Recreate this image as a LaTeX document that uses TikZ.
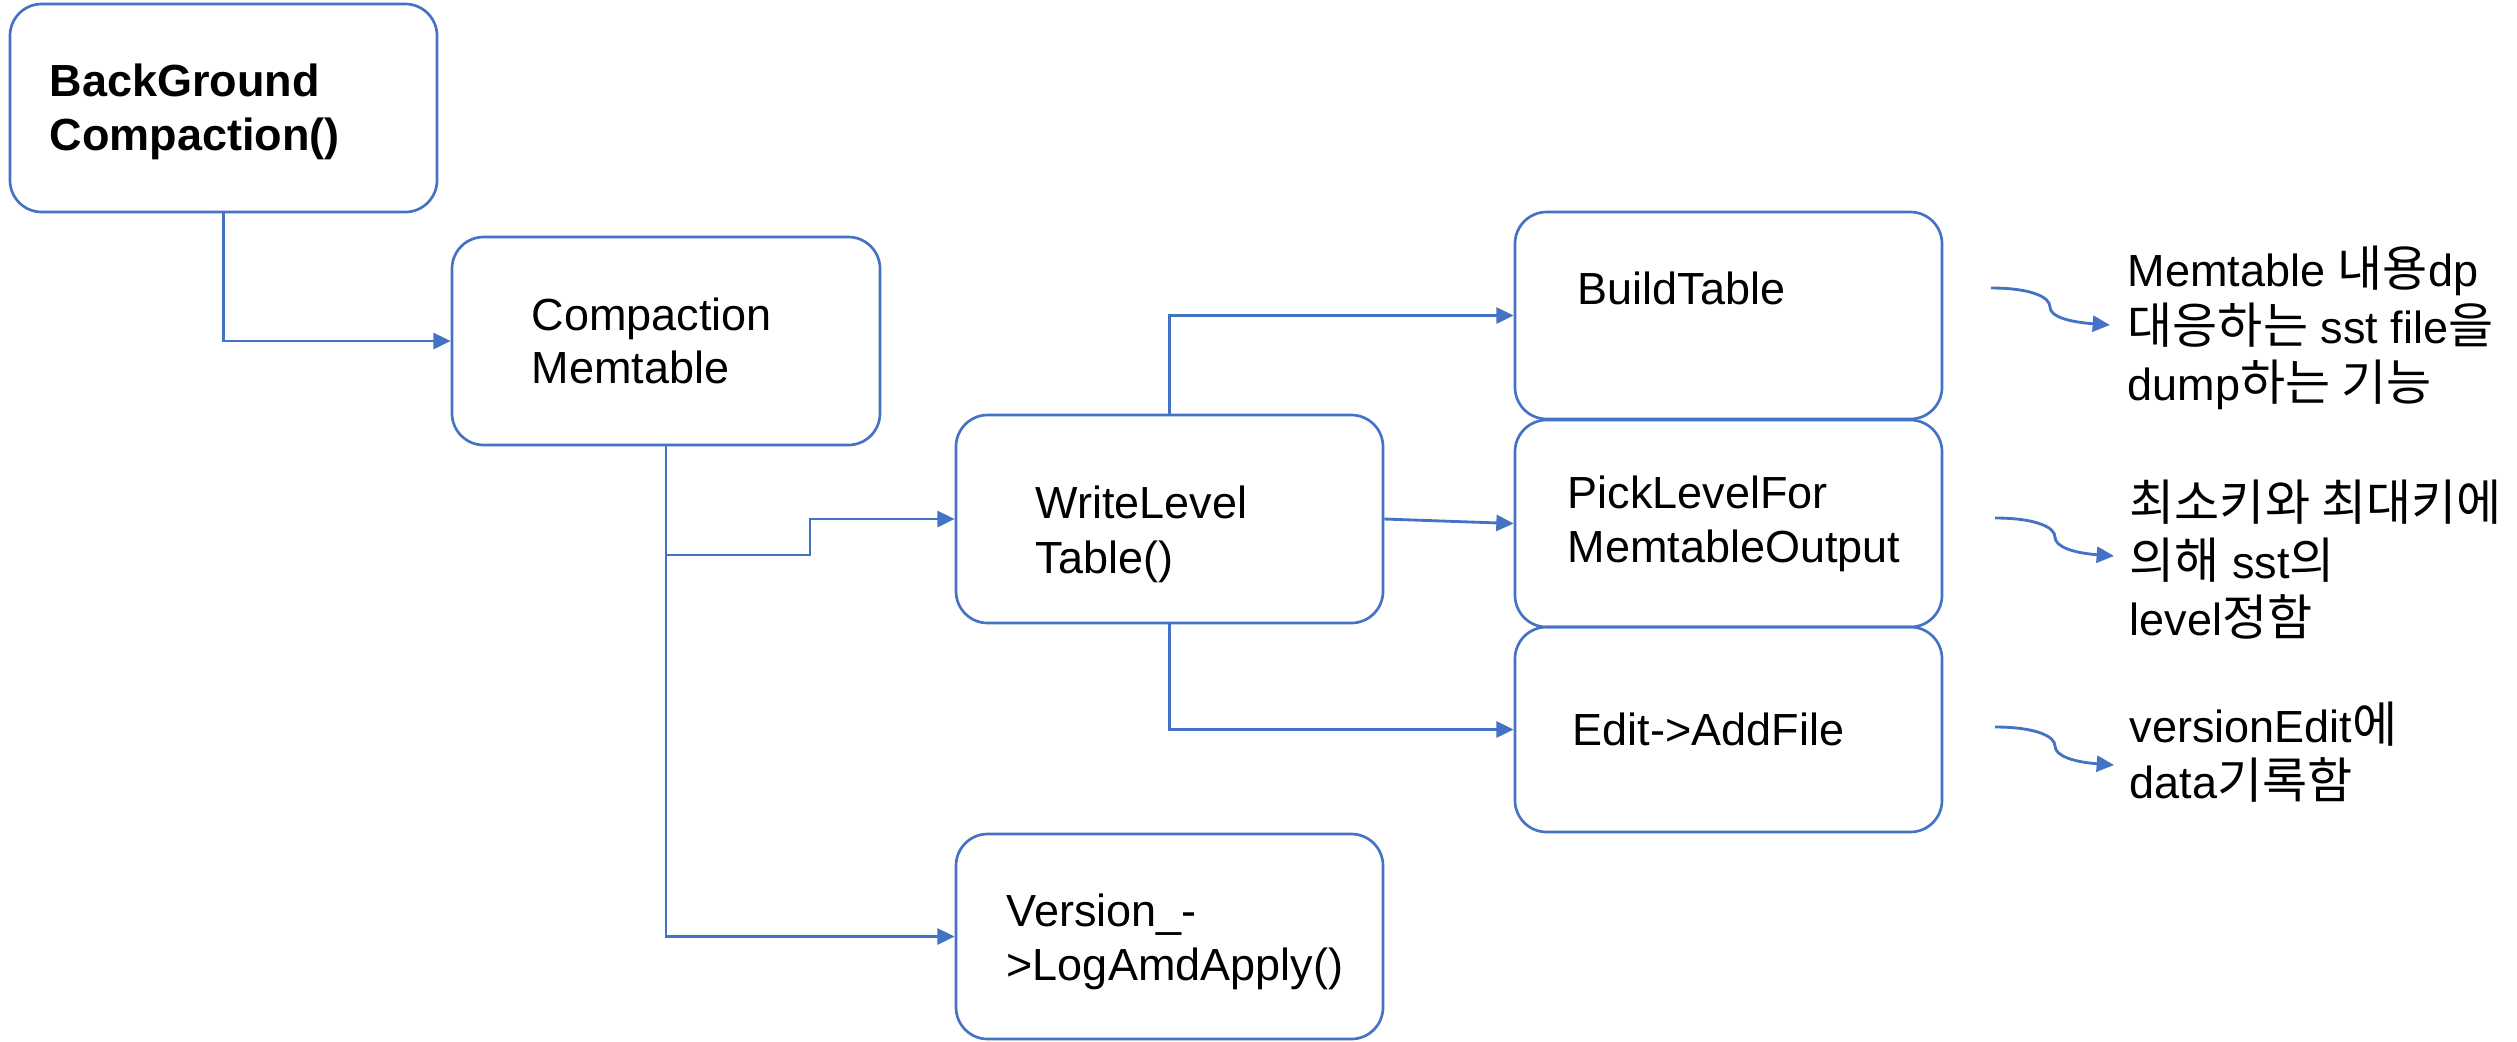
\documentclass[tikz,border=0pt]{standalone}
\usepackage{fontspec}
\setmainfont{Liberation Sans}
\newfontfamily\kr[Scale=1.09]{Noto Sans CJK KR}
\usetikzlibrary{arrows.meta,fit}
\definecolor{lnblue}{HTML}{4472C4}
\begin{document}
\begin{tikzpicture}[x=0.3pt,y=-0.3pt,
  box/.style={draw=lnblue, line width=0.8pt, rounded corners=9.5pt, inner sep=0pt, fit={#1}},
  conn/.style={draw=lnblue, line width=0.85pt, -{Triangle[length=5.2pt,width=4.8pt]}},
  lbl/.style={anchor=base west, inner sep=0pt, font=\fontsize{13.5pt}{16pt}\selectfont},
  blbl/.style={lbl, font=\fontsize{13.5pt}{16pt}\selectfont\bfseries}]
\useasboundingbox (0,0) rectangle (2517,1041);

% boxes
\node[box={(10,4) (437,212)}] (B1) {};
\node[box={(452,237) (880,445)}] (B2) {};
\node[box={(956,415) (1383,623)}] (B3) {};
\node[box={(956,834) (1383,1039)}] (B4) {};
\node[box={(1515,212) (1942,419)}] (B5) {};
\node[box={(1515,420) (1942,627)}] (B6) {};
\node[box={(1515,627) (1942,832)}] (B7) {};

% box texts
\node[blbl] (t1a) at (49,96) {BackGround};
\node[blbl] (t1b) at (49,150) {Compaction()};
\node[lbl] (t2a) at (531,330) {Compaction};
\node[lbl] (t2b) at (531,383) {Memtable};
\node[lbl] (t3a) at (1035,518) {WriteLevel};
\node[lbl] (t3b) at (1035,573) {Table()};
\node[lbl] (t4a) at (1006,926) {Version\_-};
\node[lbl] (t4b) at (1006,980) {>LogAmdApply()};
\node[lbl] (t5a) at (1577,304) {BuildTable};
\node[lbl] (t6a) at (1567,508) {PickLevelFor};
\node[lbl] (t6b) at (1567,562) {MemtableOutput};
\node[lbl] (t7a) at (1572,745) {Edit->AddFile};

% right-hand notes
\node[lbl] (r1a) at (2127,286) {Memtable {\kr 내용}dp};
\node[lbl] (r1b) at (2127,343) {{\kr 대응하는} sst file{\kr 을}};
\node[lbl] (r1c) at (2127,400) {dump{\kr 하는 기능}};
\node[lbl] (r2a) at (2129,520) {{\kr 최소키와 최대키에}};
\node[lbl] (r2b) at (2129,578) {{\kr 의해} sst{\kr 의}};
\node[lbl] (r2c) at (2129,635) {level{\kr 정함}};
\node[lbl] (r3a) at (2129,742) {versionEdit{\kr 에}};
\node[lbl] (r3b) at (2129,798) {data{\kr 기록함}};

% connectors
\draw[conn] (B1.south) |- (B2.west);
\draw[conn] (B2.south) |- (B4.west);
\coordinate (j1) at (666,555);
\coordinate (j2) at (810,555);
\draw[conn] (j1) -- (j2) |- (B3.west);
\draw[conn] (B3.north) |- (B5.west);
\draw[conn] (B3.east) -- (B6.west);
\draw[conn] (B3.south) |- (B7.west);

% curved note arrows
\coordinate (s1) at (1991,288); \coordinate (k1) at (2050,307); \coordinate (e1) at (2110,325);
\coordinate (s2) at (1995,518); \coordinate (k2) at (2055,537); \coordinate (e2) at (2114,556);
\coordinate (s3) at (1995,727); \coordinate (k3) at (2055,746); \coordinate (e3) at (2114,765);
\draw[conn] (s1) .. controls +(40,0) and +(0,-10) .. (k1) .. controls +(0,10) and +(-40,-3) .. (e1);
\draw[conn] (s2) .. controls +(40,0) and +(0,-10) .. (k2) .. controls +(0,10) and +(-40,-3) .. (e2);
\draw[conn] (s3) .. controls +(40,0) and +(0,-10) .. (k3) .. controls +(0,10) and +(-40,-3) .. (e3);
\end{tikzpicture}
\end{document}
